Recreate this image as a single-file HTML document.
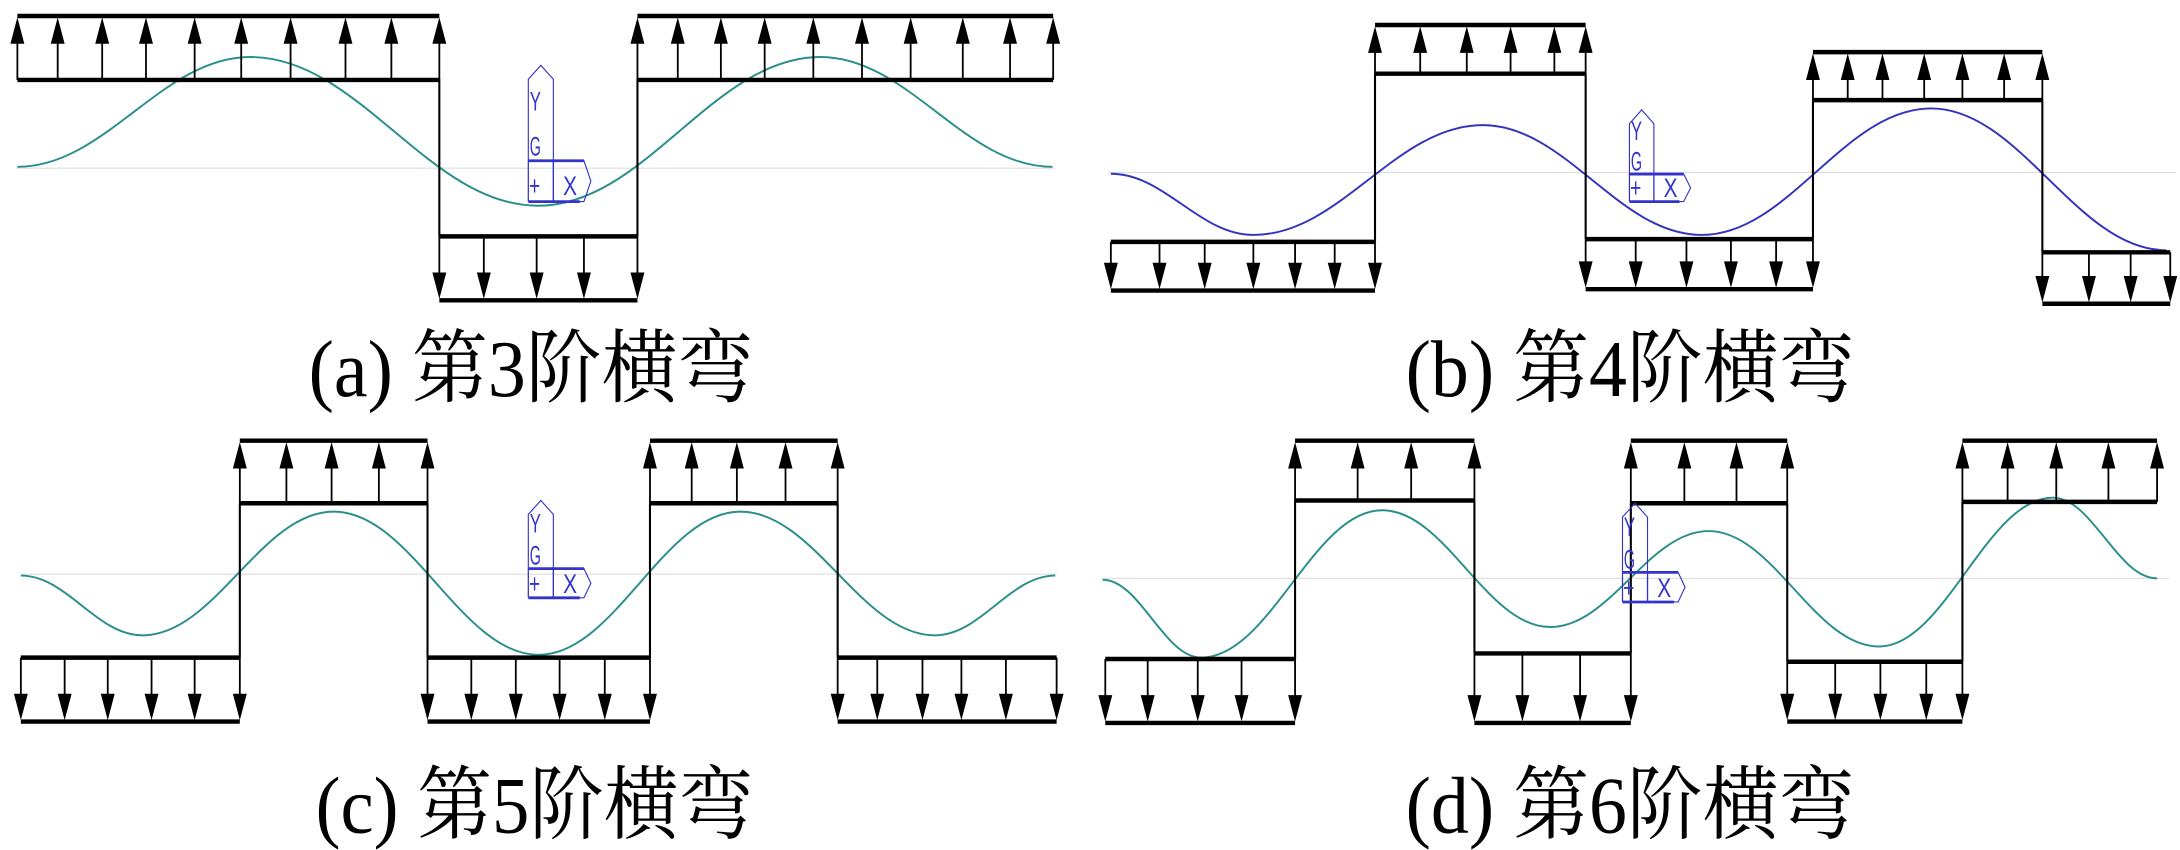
<!DOCTYPE html>
<html><head><meta charset="utf-8"><style>
html,body{margin:0;padding:0;background:#fff;}
svg{display:block;}
text.cap{font-family:"Liberation Serif","Noto Serif CJK SC",serif;font-size:58px;fill:#000;}
text.ic{font-family:"Liberation Sans",sans-serif;font-size:19px;fill:#3333cc;}
</style></head><body>
<svg id="s" width="2180" height="850" viewBox="0 0 1568 611.4" preserveAspectRatio="none" xmlns="http://www.w3.org/2000/svg">
<g id="g"></g>
<text class="cap" x="222" y="285" textLength="320" lengthAdjust="spacingAndGlyphs">(a) 第3阶横弯</text>
<text class="cap" x="1011" y="285" textLength="323" lengthAdjust="spacingAndGlyphs">(b) 第4阶横弯</text>
<text class="cap" x="227" y="599" textLength="315" lengthAdjust="spacingAndGlyphs">(c) 第5阶横弯</text>
<text class="cap" x="1011" y="599" textLength="323" lengthAdjust="spacingAndGlyphs">(d) 第6阶横弯</text>
</svg>
<script>
var g=document.getElementById('g'),h='';
function L(x1,y1,x2,y2,w,c){h+='<line x1="'+x1+'" y1="'+y1+'" x2="'+x2+'" y2="'+y2+'" stroke="'+(c||'#000')+'" stroke-width="'+w+'"/>';}
function arrow(x,yt,yh){var d=yh<yt?1:-1;L(x,yt,x,yh+d*14,1.3);h+='<polygon points="'+x+','+yh+' '+(x-5)+','+(yh+d*19)+' '+(x+5)+','+(yh+d*19)+'" fill="#000"/>';}
function up(xs,top,base){var a=xs[0],b=xs[xs.length-1];L(a,top,b,top,3.2);L(a,base,b,base,3.2);xs.forEach(function(x){arrow(x,base,top+1);});}
function down(xs,top,bot){var a=xs[0],b=xs[xs.length-1];L(a,top,b,top,3.2);L(a,bot,b,bot,3.2);xs.forEach(function(x){arrow(x,top,bot-1);});}
function curve(p,c){var d='M'+p[0][0]+','+p[0][1];for(var i=1;i<p.length;i++){var a=p[i-1],b=p[i],dx=(b[0]-a[0])*0.38;d+=' C'+(a[0]+dx)+','+a[1]+' '+(b[0]-dx)+','+b[1]+' '+b[0]+','+b[1];}h+='<path d="'+d+'" fill="none" stroke="'+c+'" stroke-width="1.4"/>';}
function icon(x0,y0,x1,y1){var c='#3333cc',w=x1-x0,hh=y1-y0,ym=y0+hh*0.7,xs=x0+w*0.2,xr=x0+(xs-x0)*2;
h+='<polygon points="'+x0+','+(y0+10)+' '+xs+','+y0+' '+xr+','+(y0+10)+' '+xr+','+ym+' '+x0+','+ym+'" fill="none" stroke="'+c+'" stroke-width="0.8"/>';
L(x0,ym,x0,y1,0.9,c);L(xr,ym,xr,y1,0.9,c);
h+='<polygon points="'+xr+','+ym+' '+(x1-5)+','+ym+' '+x1+','+((ym+y1)/2)+' '+(x1-5)+','+y1+' '+xr+','+y1+'" fill="none" stroke="'+c+'" stroke-width="0.8"/>';
L(x0,ym,x1-5,ym,2,c);L(x0,y1,x1-8,y1,2,c);
h+='<text class="ic" x="'+(x0+1)+'" y="'+(y0+hh*0.33)+'" textLength="8" lengthAdjust="spacingAndGlyphs">Y</text>';
h+='<text class="ic" x="'+(x0+1)+'" y="'+(y0+hh*0.66)+'" textLength="8" lengthAdjust="spacingAndGlyphs">G</text>';
h+='<text class="ic" x="'+(x0+0.5)+'" y="'+(ym+hh*0.25)+'" textLength="8" lengthAdjust="spacingAndGlyphs">+</text>';
h+='<text class="ic" x="'+(xr+7)+'" y="'+(ym+hh*0.25)+'" textLength="10" lengthAdjust="spacingAndGlyphs">X</text>';}
L(12,121,758,121,0.8,'#dddddd');L(797,124,1565,124,0.8,'#dddddd');L(15,413,760,413,0.8,'#dddddd');L(793,416,1560,416,0.8,'#dddddd');
// (a)
curve([[12.5,120],[180,41],[387,148],[590,41],[757,120]],'#2a8f8a');
up([12.5,41.5,73.5,105,140,173.5,209,248.5,281.5,316],11.5,57.5);
up([458.5,487.5,518.5,550,585,620,655,692.5,726.5,757.5],11.5,57.5);
down([316,348,386,420,458.5],170,216);
L(316,57,316,170,1.5);L(458.5,57,458.5,170,1.5);
icon(380,47,425,145);
// (b)
curve([[799,125],[901.5,169],[1066.5,90],[1224,169],[1389,78],[1558,180]],'#3333bb');
down([799,834,866.5,901.5,931.5,960,989],174,209);
up([989,1021.5,1055,1086.5,1118,1140.5],18,53);
down([1140.5,1176.5,1213,1245,1277.5,1304],172,208);
up([1304,1329,1354,1384,1411.5,1441.5,1469],37.5,72);
down([1469,1502.5,1532.5,1561],181.5,218.5);
L(989,53,989,174,1.5);L(1140.5,53,1140.5,172,1.5);L(1304,72,1304,172,1.5);L(1469,72,1469,181.5,1.5);
icon(1172,79,1216,145);
// (c)
curve([[15,414],[102.5,457],[240,368],[387.5,471],[532.5,368],[672.5,457],[759,414]],'#2a8f8a');
up([172.5,206,238.5,272.5,307.5],317,362);
up([467.5,497.5,530,565,602.5],317,362);
down([15,46.5,77.5,109,140,172.5],473,519);
down([307.5,339,371,402.5,435,467.5],473,519);
down([602.5,631,663.5,691.5,723.5,760],473,519);
L(172.5,362,172.5,473,1.5);L(307.5,362,307.5,473,1.5);L(467.5,362,467.5,473,1.5);L(602.5,362,602.5,473,1.5);
icon(380,360,425,430);
// (d)
curve([[793,417],[864,473],[994,367],[1115,451],[1229,382],[1351.5,465],[1476.5,358],[1551.5,416]],'#2a8f8a');
down([795,825.5,861.5,893,931.5],474,520);
up([931.5,976.5,1015,1060.5],317,360);
down([1060.5,1095,1136.5,1173],470,520);
up([1173,1211.5,1249,1285.5],317,362);
down([1285.5,1320,1352.5,1385.5,1411.5],476,519);
up([1411.5,1444,1479,1516.5,1551.5],317,361);
L(931.5,360,931.5,474,1.5);L(1060.5,360,1060.5,470,1.5);L(1173,362,1173,470,1.5);L(1285.5,362,1285.5,476,1.5);L(1411.5,361,1411.5,476,1.5);
icon(1167,362,1212,433);
g.innerHTML=h;
</script>
</body></html>
